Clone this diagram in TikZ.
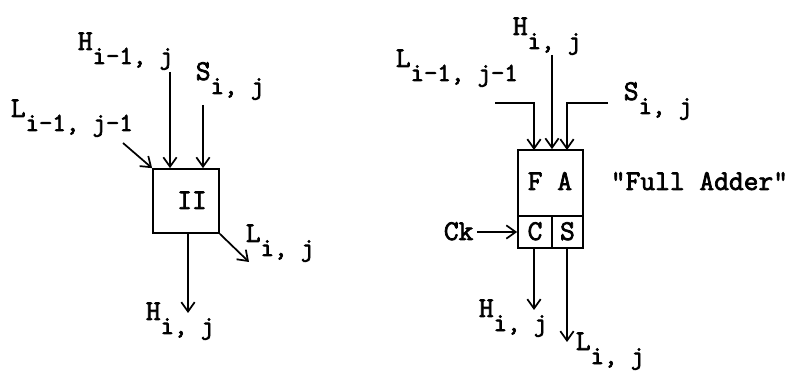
\documentclass[tikz,border=0pt]{standalone}
\usepackage{fontspec}
\newfontfamily\tw{Latin Modern Mono}[FakeBold=2.5]
\usetikzlibrary{arrows.meta}
\newcommand{\mainsz}{\fontsize{21.5pt}{21.5pt}\selectfont}
\newcommand{\lbl}[2]{#1\raisebox{-10.5pt}{\fontsize{19.5pt}{19.5pt}\selectfont #2}}
\begin{document}
\begin{tikzpicture}[x=0.75pt,y=-0.75pt, font=\tw\mainsz, line width=1.3pt,
  arr/.style={-{Straight Barb[length=7pt,width=10pt]}},
  txt/.style={inner sep=0, anchor=base west},
  ctxt/.style={inner sep=0, anchor=base},
  cell/.style={draw, inner sep=0}]
\path[use as bounding box] (0,0) rectangle (797,374);
% ---------- left: cell II ----------
\node[cell, minimum width=49.5pt, minimum height=48pt] (lbox) at (186,201) {};
\node[ctxt] (ii) at (192,209) {II};
\coordinate (hin) at (170,72);
\coordinate (sin) at (203,105);
\coordinate (lin) at (123,143);
\coordinate (hout) at (188,313);
\coordinate (lout) at (249,262);
\draw[arr] (hin) -- (hin |- lbox.north);
\draw[arr] (sin) -- (sin |- lbox.north);
\draw[arr] (lin) -- (lbox.north west);
\draw[arr] (hout |- lbox.south) -- (hout);
\draw[arr] (lbox.south east) -- (lout);
\node[txt] (lH) at (77,50) {\lbl{H}{i-1, j}};
\node[txt] (lS) at (195,80) {\lbl{S}{i, j}};
\node[txt] (lL) at (10,117) {\lbl{L}{i-1, j-1}};
\node[txt] (lLo) at (245,242) {\lbl{L}{i, j}};
\node[txt] (lHo) at (145,320) {\lbl{H}{i, j}};
% ---------- right: full adder ----------
\node[cell, minimum width=48.75pt, minimum height=49.5pt] (fa) at (550.5,183) {};
\node[cell, minimum width=25.5pt, minimum height=24pt] (cc) at (535,232) {};
\node[cell, minimum width=23.25pt, minimum height=24pt] (ss) at (567.5,232) {};
\node[ctxt] (fat) at (550,190) {F A};
\node[ctxt] (ct) at (cc.center |- 0,240) {C};
\node[ctxt] (st) at (ss.center |- 0,240) {S};
\node[txt] (fulladder) at (610,190) {\char34 Full Adder\char34};
\node[txt] (ck) at (443,240) {Ck};
\coordinate (ckarr) at (477,232);
\draw[arr] (ckarr) -- (ckarr -| cc.west);
\coordinate (rh) at (552,55);
\coordinate (rl) at (495,103);
\coordinate (rlx) at (534,150);
\coordinate (rs) at (608,103);
\coordinate (rsx) at (567,150);
\coordinate (rho) at (534,310);
\coordinate (rlo) at (567,342);
\draw[arr] (rh) -- (rh |- fa.north);
\draw[arr] (rl) -| (rlx);
\draw[arr] (rs) -| (rsx);
\draw[arr] (rho |- cc.south) -- (rho);
\draw[arr] (rlo |- ss.south) -- (rlo);
\node[txt] (rH) at (512,35) {\lbl{H}{i, j}};
\node[txt] (rL) at (395,67) {\lbl{L}{i-1, j-1}};
\node[txt] (rS) at (623,100) {\lbl{S}{i, j}};
\node[txt] (rHo) at (478,317) {\lbl{H}{i, j}};
\node[txt] (rLo) at (575,350) {\lbl{L}{i, j}};
\end{tikzpicture}
\end{document}
